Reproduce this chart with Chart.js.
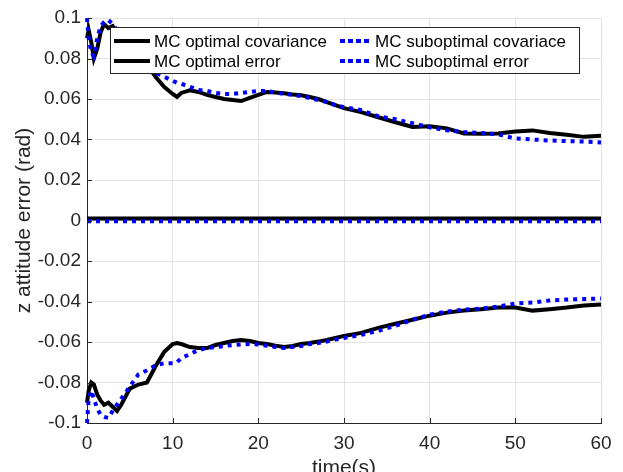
<!DOCTYPE html>
<html>
<head>
<meta charset="utf-8">
<script src="https://cdn.jsdelivr.net/npm/chart.js@4/dist/chart.umd.min.js"></script>
<style>
  html, body { margin: 0; padding: 0; background: #fff; }
  #wrap { width: 623px; height: 472px; position: relative; }
</style>
</head>
<body>
<div id="wrap"><canvas id="chart"></canvas></div>
<script>
// time samples for the covariance bounds (s)
const timeCov = [0, 0.2, 0.5, 0.8, 1.2, 1.6, 2, 2.5, 3, 3.5, 4, 5, 6, 7, 8, 9, 10, 10.5, 11, 12,
  13, 14, 15, 16, 17, 18, 19, 20, 21, 22, 23, 24, 25, 26, 27, 28, 29, 30, 32, 34, 36, 38,
  40, 42, 44, 46, 48, 50, 52, 54, 56, 58, 60];

// MC optimal covariance (upper / lower bound)
const optCovUpper = [0.090, 0.094, 0.088, 0.080, 0.085, 0.093, 0.097, 0.095, 0.096, 0.092, 0.090,
  0.086, 0.082, 0.077, 0.071, 0.066, 0.0625, 0.061, 0.063, 0.0643, 0.0635, 0.062, 0.061, 0.060,
  0.0595, 0.059, 0.0605, 0.062, 0.0635, 0.0632, 0.0628, 0.0622, 0.0618, 0.061, 0.060, 0.0585,
  0.057, 0.0555, 0.0535, 0.051, 0.0485, 0.0462, 0.0465, 0.0455, 0.043, 0.0428, 0.043, 0.044,
  0.0445, 0.0432, 0.0423, 0.0413, 0.0418];
const optCovLower = [-0.090, -0.084, -0.080, -0.081, -0.086, -0.089, -0.091, -0.090, -0.092, -0.094,
  -0.091, -0.083, -0.081, -0.080, -0.072, -0.065, -0.061, -0.0605, -0.061, -0.0625, -0.063, -0.063,
  -0.0615, -0.0605, -0.0595, -0.059, -0.0595, -0.0605, -0.061, -0.0618, -0.0625, -0.062, -0.061,
  -0.0605, -0.0598, -0.059, -0.058, -0.057, -0.0555, -0.053, -0.051, -0.049, -0.047, -0.0455,
  -0.0445, -0.0438, -0.043, -0.043, -0.0445, -0.0438, -0.043, -0.042, -0.0415];

// MC suboptimal covariance (upper / lower bound)
const subCovUpper = [0.100, 0.090, 0.083, 0.081, 0.090, 0.096, 0.098, 0.099, 0.097, 0.094, 0.091,
  0.087, 0.083, 0.078, 0.073, 0.071, 0.069, 0.068, 0.0675, 0.066, 0.0645, 0.064, 0.063, 0.0625,
  0.0625, 0.063, 0.0635, 0.064, 0.064, 0.0632, 0.0625, 0.062, 0.0615, 0.0605, 0.0595, 0.0585,
  0.057, 0.056, 0.0545, 0.0515, 0.050, 0.048, 0.046, 0.0445, 0.0437, 0.0432, 0.0425, 0.0405,
  0.040, 0.0395, 0.0392, 0.039, 0.0385];
const subCovLower = [-0.100, -0.088, -0.084, -0.088, -0.093, -0.096, -0.097, -0.0975, -0.094, -0.091,
  -0.088, -0.082, -0.076, -0.074, -0.0715, -0.0705, -0.0705, -0.070, -0.068, -0.066, -0.064, -0.063,
  -0.0625, -0.062, -0.0615, -0.0612, -0.061, -0.0612, -0.0618, -0.0625, -0.063, -0.0625, -0.062,
  -0.061, -0.0605, -0.0598, -0.0588, -0.058, -0.0565, -0.0545, -0.052, -0.049, -0.0465, -0.045,
  -0.044, -0.0435, -0.0425, -0.041, -0.0405, -0.0395, -0.039, -0.0388, -0.0385];

// mean errors
const timeErr = [0, 60];
const optErr = [0.001, 0.001];
const subErr = [-0.0004, -0.0004];

const FONT = '"Liberation Sans", Arial, Helvetica, sans-serif';
const AXIS = '#262626';
const BLUE = '#0000ff';
const DOTS = [4, 5];

const pts = (xs, ys) => xs.map((x, i) => ({ x, y: ys[i] }));

function solid(label, xs, ys, legendPos) {
  return { label, data: pts(xs, ys), borderColor: '#000', borderWidth: 4, order: 2, legendPos };
}
function dotted(label, xs, ys, legendPos) {
  return { label, data: pts(xs, ys), borderColor: BLUE, borderWidth: 4, borderDash: DOTS,
    borderCapStyle: 'butt', order: 1, legendPos };
}

// ── legend drawn inside the axes, MATLAB style (2 columns) ─────────
const boxLegend = {
  id: 'boxLegend',
  afterDatasetsDraw(chart) {
    const { ctx, chartArea: a } = chart;
    const bx = a.left + 23, by = a.top + 9, bw = 469, bh = 46;
    ctx.save();
    ctx.fillStyle = '#fff';
    ctx.fillRect(bx, by, bw, bh);
    ctx.strokeStyle = AXIS;
    ctx.lineWidth = 1;
    ctx.strokeRect(bx + 0.5, by + 0.5, bw, bh);
    ctx.font = '17px ' + FONT;
    ctx.textBaseline = 'middle';
    ctx.fillStyle = '#000';
    const cols = [{ ls: bx + 4, le: bx + 40, tx: bx + 44 }, { ls: bx + 230, le: bx + 262, tx: bx + 265 }];
    chart.data.datasets.forEach(ds => {
      if (!ds.legendPos) return;
      const [c, r] = ds.legendPos;
      const col = cols[c];
      const y = by + 14 + r * 20;
      ctx.beginPath();
      ctx.strokeStyle = ds.borderColor;
      ctx.lineWidth = 4;
      ctx.lineCap = 'butt';
      ctx.setLineDash(ds.borderDash ? [5, 3] : []);
      ctx.moveTo(col.ls, y);
      ctx.lineTo(col.le, y);
      ctx.stroke();
      ctx.setLineDash([]);
      ctx.fillText(ds.label, col.tx, y + 1);
    });
    ctx.restore();
  }
};

// ── inward tick marks ─────────────────────────────────────────────
const innerTicks = {
  id: 'innerTicks',
  afterDraw(chart) {
    const { ctx, chartArea: a, scales: { x, y } } = chart;
    ctx.save();
    ctx.strokeStyle = AXIS;
    ctx.lineWidth = 1;
    ctx.beginPath();
    x.ticks.forEach(t => {
      const px = Math.round(x.getPixelForValue(t.value)) + 0.5;
      ctx.moveTo(px, a.bottom);
      ctx.lineTo(px, a.bottom - 5);
    });
    y.ticks.forEach(t => {
      const py = Math.round(y.getPixelForValue(t.value)) + 0.5;
      ctx.moveTo(a.left, py);
      ctx.lineTo(a.left + 5, py);
    });
    ctx.stroke();
    ctx.restore();
  }
};

new Chart(document.getElementById('chart'), {
  type: 'line',
  data: {
    datasets: [
      solid('MC optimal covariance', timeCov, optCovUpper, [0, 0]),
      solid('MC optimal covariance', timeCov, optCovLower, null),
      solid('MC optimal error', timeErr, optErr, [0, 1]),
      dotted('MC suboptimal covariace', timeCov, subCovUpper, [1, 0]),
      dotted('MC suboptimal covariace', timeCov, subCovLower, null),
      dotted('MC suboptimal error', timeErr, subErr, [1, 1]),
    ],
  },
  options: {
    responsive: true,
    maintainAspectRatio: false,
    animation: false,
    clip: 4,
    elements: { point: { radius: 0 }, line: { tension: 0 } },
    layout: { padding: { top: 18, right: 22, left: 0, bottom: 0 } },
    plugins: { legend: { display: false }, tooltip: { enabled: false } },
    scales: {
      x: {
        type: 'linear', min: 0, max: 60,
        afterFit: s => { s.height = 49; },
        ticks: { stepSize: 10, color: AXIS, padding: 9, font: { family: FONT, size: 19 } },
        grid: { color: '#e3e3e3', drawTicks: false },
        border: { display: true, color: AXIS, width: 1 },
        title: { display: true, text: 'time(s)', color: AXIS, font: { family: FONT, size: 21 },
          padding: { top: 0, bottom: -9 } },
      },
      y: {
        min: -0.1, max: 0.1,
        afterFit: s => { s.width = 87; },
        ticks: { stepSize: 0.02, color: AXIS, padding: 6, font: { family: FONT, size: 19 },
          callback: v => String(Number(v.toFixed(2))) },
        grid: { color: '#e3e3e3', drawTicks: false },
        border: { display: true, color: AXIS, width: 1 },
        title: { display: true, text: 'z attitude error (rad)', color: AXIS,
          font: { family: FONT, size: 21 }, padding: { top: 12, bottom: 0 } },
      },
    },
  },
  plugins: [boxLegend, innerTicks],
});
</script>
</body>
</html>
